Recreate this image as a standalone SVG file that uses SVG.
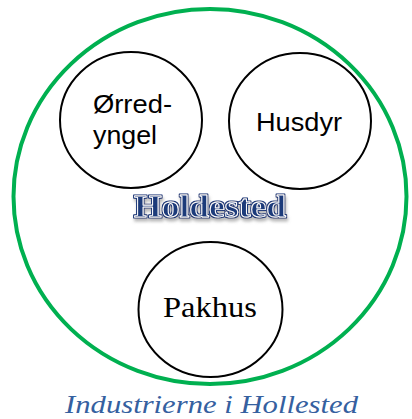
<svg xmlns="http://www.w3.org/2000/svg" width="412" height="419" viewBox="0 0 412 419">
  <defs>
    <style>
      .node { fill: #ffffff; stroke: #000000; stroke-width: 2; }
      .sans { font-family: "Liberation Sans", Arial, sans-serif; font-size: 26px; fill: #000000; }
      .serif { font-family: "Liberation Serif", "Times New Roman", serif; fill: #000000; }
      .title { font-family: "Liberation Serif", "Times New Roman", serif; font-weight: bold; font-size: 32px; fill: #1f3a7a; stroke: #ffffff; stroke-width: 0.9; stroke-linejoin: round; }
    </style>
    <!-- dark outer outline plus soft drop shadow for the title -->
    <filter id="outlined" x="-10%" y="-30%" width="120%" height="170%">
      <feMorphology in="SourceAlpha" operator="dilate" radius="1.4" result="grown"/>
      <feFlood flood-color="#1f3a7a"/>
      <feComposite in2="grown" operator="in" result="outline"/>
      <feOffset in="grown" dx="0.5" dy="3" result="moved"/>
      <feGaussianBlur in="moved" stdDeviation="1.6" result="blurred"/>
      <feFlood flood-color="#8a8a8a" flood-opacity="0.6"/>
      <feComposite in2="blurred" operator="in" result="shadow"/>
      <feMerge>
        <feMergeNode in="shadow"/>
        <feMergeNode in="outline"/>
        <feMergeNode in="SourceGraphic"/>
      </feMerge>
    </filter>
  </defs>

  <rect width="412" height="419" fill="#ffffff"/>

  <!-- outer boundary -->
  <g id="holdested">
    <ellipse cx="210" cy="196.5" rx="196.5" ry="187.5" fill="none" stroke="#00b050" stroke-width="4"/>
    <text class="title" x="134" y="217" textLength="152" lengthAdjust="spacingAndGlyphs" filter="url(#outlined)">Holdested</text>
  </g>

  <g id="node-orredyngel">
    <ellipse class="node" cx="131" cy="120" rx="71" ry="68"/>
    <text class="sans" x="93" y="113" textLength="79" lengthAdjust="spacingAndGlyphs">Ørred-</text>
    <text class="sans" x="93" y="144" textLength="64" lengthAdjust="spacingAndGlyphs">yngel</text>
  </g>

  <g id="node-husdyr">
    <ellipse class="node" cx="300" cy="121" rx="71" ry="68"/>
    <text class="sans" x="299" y="131" text-anchor="middle" textLength="86" lengthAdjust="spacingAndGlyphs">Husdyr</text>
  </g>

  <g id="node-pakhus">
    <ellipse class="node" cx="210.5" cy="309.5" rx="72" ry="67.5"/>
    <text class="serif" x="210" y="317" font-size="29" text-anchor="middle" textLength="94" lengthAdjust="spacingAndGlyphs">Pakhus</text>
  </g>

  <g id="connectors"></g>

  <text x="65" y="413" font-family="Liberation Serif, serif" font-style="italic" font-size="25" fill="#35609f" textLength="293" lengthAdjust="spacingAndGlyphs">Industrierne i Hollested</text>
</svg>
